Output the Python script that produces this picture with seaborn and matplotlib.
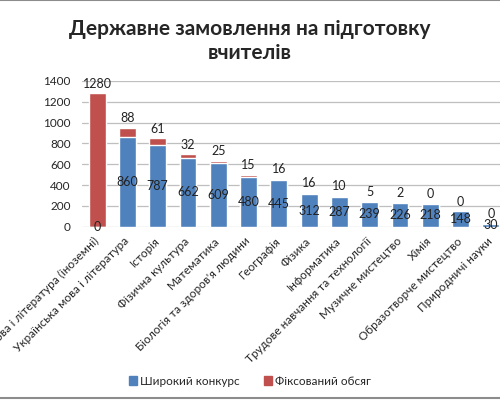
import seaborn as sns
import matplotlib.pyplot as plt
from matplotlib.lines import Line2D
import numpy as np

# Subjects and the two parts of the state order
subjects = [
    "Мова і література (іноземні)",
    "Українська мова і література",
    "Історія",
    "Фізична культура",
    "Математика",
    "Біологія та здоров'я людини",
    "Географія",
    "Фізика",
    "Інформатика",
    "Трудове навчання та технології",
    "Музичне мистецтво",
    "Хімія",
    "Образотворче мистецтво",
    "Природничі науки",
]
wide = [0, 860, 787, 662, 609, 480, 445, 312, 287, 239, 226, 218, 148, 30]
fixed = [1280, 88, 61, 32, 25, 15, 16, 16, 10, 5, 2, 0, 0, 0]
series_names = ["Широкий конкурс", "Фіксований обсяг"]
yticks = [0, 200, 400, 600, 800, 1000, 1200, 1400]

blue = "#4F81BD"
red = "#C0504D"

sns.set_style("white")
plt.rcParams["font.family"] = ["Lato", "DejaVu Sans"]

fig = plt.figure(figsize=(5, 4), dpi=100)
ax = fig.add_axes([0.164, 0.433, 0.848, 0.365])

totals = np.array(wide) + np.array(fixed)
sns.barplot(x=subjects, y=totals, color=red, width=0.56, saturation=1, ax=ax)
sns.barplot(x=subjects, y=wide, color=blue, width=0.56, saturation=1, ax=ax)

# data labels
for i in range(len(subjects)):
    ax.annotate(str(wide[i]), (i, wide[i] / 2), ha="center", va="center",
                fontsize=9, color="#222222")
    ax.annotate(str(fixed[i]), (i, totals[i]), xytext=(0, 7),
                textcoords="offset points", ha="center", va="center",
                fontsize=9, color="#222222")

ax.set_ylim(0, 1400)
ax.set_yticks(yticks)
ax.set_xlim(-0.5, len(subjects) - 0.5)
ax.yaxis.grid(True, color="#BFBFBF", linewidth=0.9)
ax.set_axisbelow(True)
sns.despine(ax=ax, left=True, bottom=True)
ax.tick_params(axis="y", labelsize=8.5, length=0, pad=8)
ax.tick_params(axis="x", length=0, pad=9)
ax.set_xticks(range(len(subjects)))
ax.set_xticklabels(subjects, rotation=45, ha="right", va="center",
                   rotation_mode="anchor", fontsize=8.5)

fig.suptitle("Державне замовлення на підготовку\nвчителів", y=0.952,
             fontsize=15, fontweight="bold", linespacing=1.25)

handles = [plt.Rectangle((0, 0), 1, 1, color=blue),
           plt.Rectangle((0, 0), 1, 1, color=red)]
fig.legend(handles, series_names, loc="center", bbox_to_anchor=(0.5, 0.047),
           ncol=2, frameon=False, fontsize=8.5, handlelength=0.7,
           handleheight=0.7, handletextpad=0.3, columnspacing=2)

fig.add_artist(Line2D([0, 1], [0.999, 0.999], color="#8C8C8C", linewidth=1.5))
fig.add_artist(Line2D([0, 1], [0.006, 0.006], color="#8C8C8C", linewidth=1.5))

fig.savefig("out.png", dpi=100)
